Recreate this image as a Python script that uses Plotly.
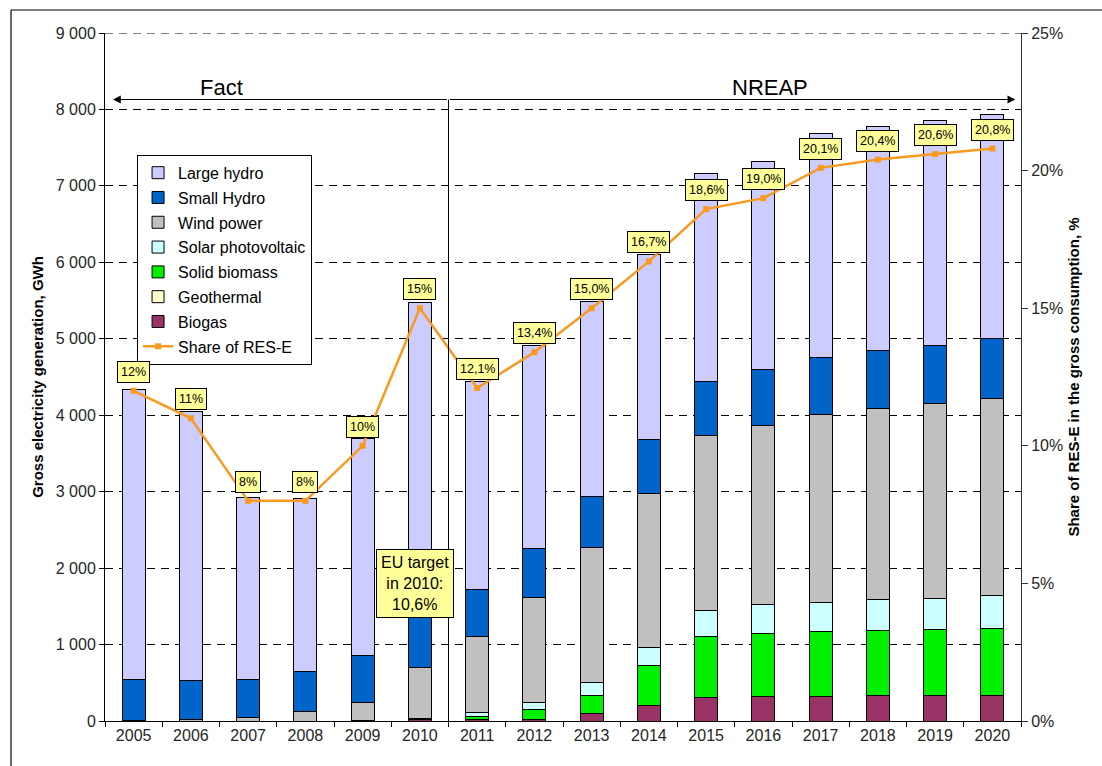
import plotly.graph_objects as go

# Years and generation by source, GWh
years = ["2005", "2006", "2007", "2008", "2009", "2010", "2011", "2012",
         "2013", "2014", "2015", "2016", "2017", "2018", "2019", "2020"]

biogas = [0, 0, 0, 0, 10, 25, 15, 26, 92, 209, 305, 318, 318, 340, 340, 340]
geothermal = [0, 0, 0, 0, 0, 0, 0, 0, 0, 0, 0, 0, 0, 0, 0, 0]
solid_biomass = [0, 0, 0, 0, 0, 10, 42, 127, 248, 515, 799, 830, 847, 842, 860, 873]
solar_pv = [0, 0, 0, 0, 0, 0, 52, 87, 166, 240, 340, 370, 388, 402, 401, 423]
wind_power = [10, 25, 40, 118, 230, 663, 995, 1374, 1767, 2007, 2290, 2352, 2452, 2509, 2557, 2588]
small_hydro = [536, 503, 506, 527, 611, 750, 611, 637, 660, 707, 707, 724, 746, 754, 759, 780]
large_hydro = [3786, 3522, 2373, 2265, 2849, 4032, 2725, 2659, 2556, 2421, 2719, 2719, 2928, 2932, 2941, 2928]

# Share of RES-E in gross consumption, %
share = [12, 11, 8, 8, 10, 15, 12.1, 13.4, 15.0, 16.7, 18.6, 19.0, 20.1, 20.4, 20.6, 20.8]
share_labels = ["12%", "11%", "8%", "8%", "10%", "15%", "12,1%", "13,4%", "15,0%",
                "16,7%", "18,6%", "19,0%", "20,1%", "20,4%", "20,6%", "20,8%"]

y_ticks = [0, 1000, 2000, 3000, 4000, 5000, 6000, 7000, 8000, 9000]
y2_ticks = [0, 5, 10, 15, 20, 25]
y2_ticktext = ["0%", "5%", "10%", "15%", "20%", "25%"]

FONT = "Arial, Liberation Sans, sans-serif"
TICK_COLOR = "#262626"

# Stacked from the bottom up; legend rank lists them top-down
series = [
    ("Biogas", biogas, "#993366", 7),
    ("Geothermal", geothermal, "#FFFFCC", 6),
    ("Solid biomass", solid_biomass, "#00F000", 5),
    ("Solar photovoltaic", solar_pv, "#CCFFFF", 4),
    ("Wind power", wind_power, "#C0C0C0", 3),
    ("Small Hydro", small_hydro, "#0064C8", 2),
    ("Large hydro", large_hydro, "#CCCCFF", 1),
]

fig = go.Figure()
for name, vals, color, rank in series:
    fig.add_trace(go.Bar(
        x=years, y=vals, name=name, legendrank=rank, legendgroup=name,
        marker=dict(color=color, line=dict(color="#000000", width=1)),
        yaxis="y",
    ))

fig.add_trace(go.Scatter(
    x=years, y=share, name="Share of RES-E", legendrank=8, legendgroup="share",
    mode="lines+markers", yaxis="y2",
    line=dict(color="#F99A20", width=2.5),
    marker=dict(symbol="square", size=6, color="#F99A20"),
))

annotations = []
# Value boxes above each point of the share line (x given as category index)
for i, (s, lab) in enumerate(zip(share, share_labels)):
    annotations.append(dict(
        x=i, y=s, xref="x", yref="y2", text=lab, showarrow=False,
        yshift=19, font=dict(family=FONT, size=12.5, color="#000000"),
        bgcolor="#FFFF99", bordercolor="#000000", borderwidth=1, borderpad=3,
    ))

# EU target callout
annotations.append(dict(
    x=5, y=1800, xref="x", yref="y", xshift=-5,
    text="EU target<br>in 2010:<br>10,6%", showarrow=False,
    font=dict(family=FONT, size=16, color="#000000"),
    bgcolor="#FFFF99", bordercolor="#000000", borderwidth=1, borderpad=4,
    align="center",
))

# Fact / NREAP period arrows
arrow_y = 8130
annotations.append(dict(x=-0.36, y=arrow_y, ax=5.5, ay=arrow_y, xref="x", yref="y",
                        axref="x", ayref="y", text="", showarrow=True,
                        arrowhead=2, arrowsize=1.3, arrowwidth=1.2, arrowcolor="#000000"))
annotations.append(dict(x=15.4, y=arrow_y, ax=5.5, ay=arrow_y, xref="x", yref="y",
                        axref="x", ayref="y", text="", showarrow=True,
                        arrowhead=2, arrowsize=1.3, arrowwidth=1.2, arrowcolor="#000000"))
annotations.append(dict(x=1.53, y=arrow_y, xref="x", yref="y", text="Fact",
                        showarrow=False, yanchor="bottom", yshift=-2,
                        font=dict(family=FONT, size=22, color="#000000")))
annotations.append(dict(x=11.12, y=arrow_y, xref="x", yref="y", text="NREAP",
                        showarrow=False, yanchor="bottom", yshift=-2,
                        font=dict(family=FONT, size=22, color="#000000")))

shapes = [
    # divider between historical data and plan
    dict(type="line", xref="x", yref="y", x0=5.5, x1=5.5, y0=0, y1=arrow_y,
         line=dict(color="#000000", width=1)),
    # top gridline at the axis maximum
    dict(type="line", xref="paper", yref="y", x0=0, x1=1, y0=y_ticks[-1], y1=y_ticks[-1],
         line=dict(color="#000000", width=1, dash="8px,6px")),
    # chart frame
    dict(type="line", xref="paper", yref="paper", x0=-0.1026, x1=1.09, y0=1.0334, y1=1.0334,
         line=dict(color="#000000", width=1.2)),
    dict(type="line", xref="paper", yref="paper", x0=-0.1026, x1=-0.1026, y0=-0.07, y1=1.0334,
         line=dict(color="#000000", width=1.2)),
]

fig.update_layout(
    width=1102, height=766,
    margin=dict(l=105, r=81, t=33, b=45),
    paper_bgcolor="#FFFFFF", plot_bgcolor="#FFFFFF",
    barmode="stack", bargap=0.6,
    separators=", ",
    font=dict(family=FONT, size=12, color=TICK_COLOR),
    showlegend=True,
    legend=dict(
        x=0.035, y=0.823, xanchor="left", yanchor="top",
        bgcolor="#FFFFFF", bordercolor="#000000", borderwidth=1,
        traceorder="grouped", tracegroupgap=1,
        font=dict(family=FONT, size=16, color="#000000"),
        itemwidth=30,
    ),
    xaxis=dict(
        type="category", range=[-0.5, 15.5],
        showline=True, linecolor="#000000", linewidth=1,
        ticks="outside", tickson="boundaries", ticklen=5, tickcolor="#000000",
        showgrid=False, tickfont=dict(family=FONT, size=16, color=TICK_COLOR),
    ),
    yaxis=dict(
        range=[0, 9000], tickvals=y_ticks, tickformat=",d",
        showline=True, linecolor="#000000", linewidth=1,
        ticks="outside", ticklen=5, tickcolor="#000000",
        showgrid=True, gridcolor="#000000", gridwidth=1, griddash="8px,6px",
        zeroline=False,
        tickfont=dict(family=FONT, size=16, color=TICK_COLOR),
        title=dict(text="<b>Gross electricity generation, GWh</b>",
                   font=dict(family=FONT, size=15, color="#000000"), standoff=8),
    ),
    yaxis2=dict(
        overlaying="y", side="right", range=[0, 25],
        tickmode="array", tickvals=y2_ticks, ticktext=y2_ticktext,
        showline=True, linecolor="#333333", linewidth=1,
        ticks="outside", ticklen=6, tickcolor="#333333", showgrid=False,
        zeroline=False,
        tickfont=dict(family=FONT, size=16, color=TICK_COLOR),
        title=dict(text="<b>Share of RES-E in the gross consumption, %</b>",
                   font=dict(family=FONT, size=15, color="#000000"), standoff=6),
    ),
    annotations=annotations,
    shapes=shapes,
)

fig.write_html("out.html")
